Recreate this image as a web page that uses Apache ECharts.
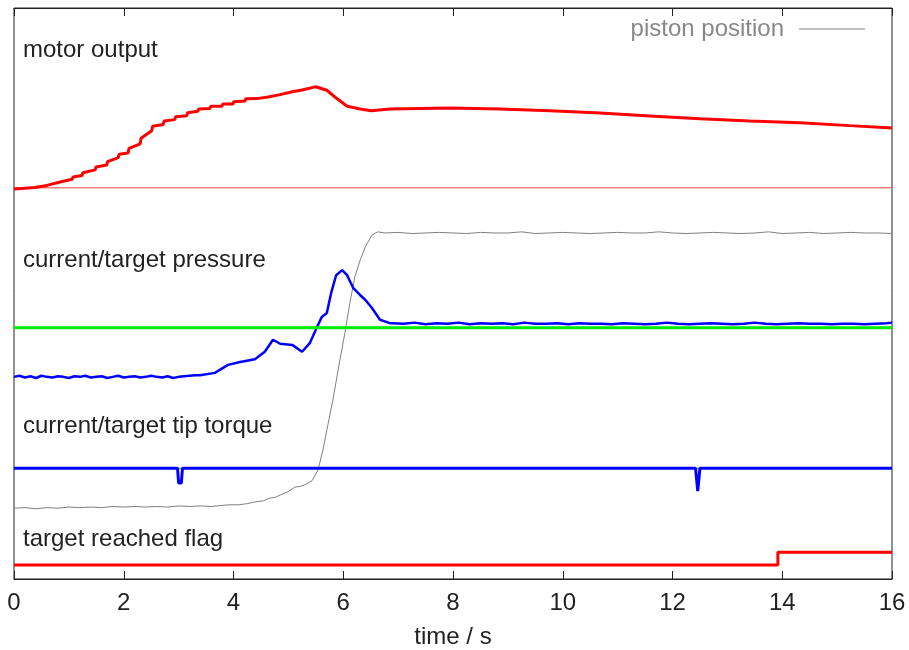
<!DOCTYPE html>
<html>
<head>
<meta charset="utf-8">
<script src="https://cdn.jsdelivr.net/npm/echarts@6/dist/echarts.min.js"></script>
<style>
html,body{margin:0;padding:0;background:#fff;}
#chart{width:909px;height:650px;}
</style>
</head>
<body>
<div id="chart"></div>
<script>
// x ticks (seconds)
var xTicks = [0, 2, 4, 6, 8, 10, 12, 14, 16];

// y is arbitrary units (0..100 of the stacked trace area)
// motor output: staircase ramp part [t, value]
var motorRamp = [
  [0,68.3],[0.2,68.45],
  [0.38,68.55],[0.395,68.85],[0.60,68.93],[0.615,69.28],[0.84,69.53],[0.855,69.88],
  [1.06,70.0],[1.075,70.4],[1.24,70.65],[1.255,71.15],[1.48,71.65],[1.495,72.15],
  [1.69,72.5],[1.705,73.1],[1.90,73.8],[1.915,74.4],[2.08,74.6],[2.095,75.4],
  [2.30,76.2],[2.315,77.2],[2.51,78.5],[2.525,79.3],[2.72,79.6],[2.735,80.2],
  [2.93,80.45],[2.945,80.95],[3.15,81.15],[3.165,81.65],[3.35,81.9],[3.365,82.3],
  [3.57,82.4],[3.585,82.8],[3.79,82.8],[3.805,83.2],[3.99,83.2],[4.005,83.6],
  [4.21,83.7],[4.225,84.1],[4.43,84.13],[4.445,84.48],[4.63,84.43],[4.645,84.78],
  [4.85,84.83],[4.865,85.18],[5.07,85.33],[5.085,85.68],[5.25,85.65],[5.265,85.95],
  [5.45,86.1]
];
// motor output: after the peak
var motorTail = [
  [5.45,86.1],[5.50,86.2],[5.70,85.6],[5.89,84.1],[6.07,82.8],[6.31,82.3],[6.51,82.0],
  [6.85,82.3],[7.95,82.5],[8.86,82.3],[9.77,82.0],[10.68,81.6],[11.59,81.1],
  [12.50,80.6],[13.41,80.2],[14.32,79.9],[15.23,79.4],[16,79.0]
];
var motorZero = [[0,68.5],[16,68.5]];

// current pressure
var pressure = [
  [0,35.4],[0.1,35.6],[0.2,35.3],[0.3,35.5],[0.4,35.2],[0.5,35.6],[0.6,35.4],[0.7,35.3],
  [0.8,35.5],[0.9,35.4],[1.0,35.2],[1.1,35.5],[1.2,35.4],[1.3,35.6],[1.4,35.3],[1.5,35.4],
  [1.6,35.5],[1.7,35.2],[1.8,35.4],[1.9,35.6],[2.0,35.3],[2.1,35.4],[2.2,35.5],[2.3,35.3],
  [2.4,35.4],[2.5,35.6],[2.6,35.4],[2.7,35.3],[2.8,35.5],[2.9,35.2],[3.0,35.4],[3.1,35.5],
  [3.2,35.6],[3.3,35.7],[3.39,35.7],[3.66,36.1],[3.90,37.5],[4.12,38.0],[4.39,38.5],
  [4.57,39.8],[4.72,41.9],[4.85,41.2],[5.07,41.0],[5.25,39.8],[5.39,41.3],[5.52,44.1],
  [5.61,45.9],[5.70,46.6],[5.78,50.1],[5.87,53.2],[5.98,54.1],[6.07,53.2],[6.18,51.0],
  [6.31,49.7],[6.40,48.9],[6.52,47.5],[6.67,45.4],[6.85,44.8],
  [6.9,44.8],[7.1,44.7],[7.3,44.9],[7.5,44.6],[7.7,44.8],[7.9,44.7],[8.1,44.9],[8.3,44.6],
  [8.5,44.8],[8.7,44.7],[8.9,44.8],[9.1,44.6],[9.3,44.9],[9.5,44.7],[9.7,44.7],[9.9,44.8],
  [10.1,44.6],[10.3,44.8],[10.5,44.7],[10.7,44.7],[10.9,44.6],[11.1,44.8],[11.3,44.7],
  [11.5,44.6],[11.7,44.7],[11.9,44.9],[12.1,44.7],[12.3,44.6],[12.5,44.7],[12.7,44.8],
  [12.9,44.7],[13.1,44.6],[13.3,44.7],[13.5,44.9],[13.7,44.7],[13.9,44.6],[14.1,44.7],
  [14.3,44.8],[14.5,44.7],[14.7,44.7],[14.9,44.6],[15.1,44.7],[15.3,44.7],[15.5,44.6],
  [15.7,44.7],[15.9,44.8],[16,44.9]
];
var targetPressure = [[0,44.0],[16,44.0]];

// piston position
var piston = [
  [0,12.4],[0.2,12.5],[0.4,12.3],[0.6,12.5],[0.8,12.4],[1.0,12.6],[1.2,12.5],[1.4,12.6],
  [1.6,12.5],[1.8,12.7],[2.0,12.6],[2.2,12.7],[2.4,12.6],[2.6,12.7],[2.8,12.6],[3.0,12.8],
  [3.2,12.7],[3.4,12.8],[3.6,12.7],[3.8,12.9],[3.94,13.0],[4.1,13.0],[4.25,13.2],[4.39,13.5],
  [4.55,13.7],[4.67,14.2],[4.76,14.3],[4.85,14.7],[5.0,15.3],[5.12,16.1],[5.21,16.2],
  [5.30,16.5],[5.43,17.2],[5.54,19.1],[5.63,22.6],[5.72,27.0],[5.81,31.3],[5.94,38.4],
  [6.03,43.1],[6.12,48.3],[6.21,52.9],[6.31,55.9],[6.40,58.1],[6.52,60.2],[6.63,60.8],
  [6.75,60.6],[7.0,60.7],[7.25,60.5],[7.5,60.6],[7.75,60.7],[8.0,60.6],[8.25,60.5],
  [8.5,60.7],[8.75,60.6],[9.0,60.6],[9.25,60.8],[9.5,60.5],[9.75,60.6],[10.0,60.7],
  [10.25,60.6],[10.5,60.5],[10.75,60.6],[11.0,60.7],[11.25,60.6],[11.5,60.6],[11.75,60.8],
  [12.0,60.6],[12.25,60.5],[12.5,60.6],[12.75,60.7],[13.0,60.6],[13.25,60.5],[13.5,60.6],
  [13.75,60.8],[14.0,60.5],[14.25,60.6],[14.5,60.7],[14.75,60.5],[15.0,60.6],[15.25,60.7],
  [15.5,60.6],[15.75,60.6],[16,60.5]
];

// tip torque
var torque = [
  [0,19.4],[2.98,19.4],[3.0,16.8],[3.05,16.8],[3.07,19.4],
  [12.42,19.4],[12.46,15.4],[12.50,19.4],[16,19.4]
];
var targetTorque = [[0,19.4],[16,19.4]];

// target reached flag
var flag = [[0,2.45],[13.92,4.7],[16,4.7]];

var labels = ['motor output', 'current/target pressure', 'current/target tip torque', 'target reached flag'];
var labelY = [50, 260, 426, 539];

var FONT = '"Liberation Sans", Arial, sans-serif';
var chart = echarts.init(document.getElementById('chart'), null, {renderer: 'canvas'});

function lineSeries(name, data, color, width, extra) {
  var s = {
    name: name, type: 'line', data: data, symbol: 'none', showSymbol: false,
    lineStyle: {color: color, width: width}, itemStyle: {color: color},
    animation: false, silent: true
  };
  if (extra) for (var k in extra) s[k] = extra[k];
  return s;
}

var option = {
  backgroundColor: '#fff',
  animation: false,
  grid: {left: 14, right: 17, top: 8, bottom: 71, containLabel: false, outerBoundsMode: 'none',
    show: true, borderColor: '#222', borderWidth: 1, backgroundColor: 'transparent'},
  legend: {
    data: [{name: 'piston position', icon: 'rect'}], right: 39, top: 12, align: 'right',
    itemWidth: 66, itemHeight: 1, selectedMode: false,
    itemStyle: {color: '#808080'},
    textStyle: {fontSize: 24, fontFamily: FONT, color: '#888', padding: [0, 10, 0, 0]}
  },
  xAxis: [{
    type: 'value', min: xTicks[0], max: xTicks[xTicks.length - 1], interval: 2,
    position: 'bottom',
    name: 'time / s', nameLocation: 'middle', nameGap: 46,
    nameTextStyle: {fontSize: 24, fontFamily: FONT, color: '#222'},
    axisLine: {show: true, lineStyle: {color: '#222', width: 1}},
    axisTick: {show: true, inside: true, length: 8, lineStyle: {color: '#222'}},
    axisLabel: {fontSize: 24, fontFamily: FONT, color: '#222', margin: 12},
    splitLine: {show: false}
  }, {
    type: 'value', min: xTicks[0], max: xTicks[xTicks.length - 1], interval: 2,
    position: 'top',
    axisLine: {show: true, lineStyle: {color: '#222', width: 1}},
    axisTick: {show: true, inside: true, length: 8, lineStyle: {color: '#222'}},
    axisLabel: {show: false},
    splitLine: {show: false}
  }],
  yAxis: {type: 'value', min: 0, max: 100, show: false},
  graphic: labels.map(function (t, i) {
    return {type: 'text', x: 23, y: labelY[i], silent: true,
      style: {text: t, fontSize: 24, fontFamily: FONT, fill: '#222', verticalAlign: 'middle'}};
  }),
  series: [
    lineSeries('motor zero', motorZero, '#ff4040', 1),
    lineSeries('motor output', motorRamp, '#ff0000', 3),
    lineSeries('motor output tail', motorTail, '#ff0000', 3),
    lineSeries('piston position', piston, '#808080', 1),
    lineSeries('current pressure', pressure, '#0000ff', 2.5),
    lineSeries('target pressure', targetPressure, '#00ee00', 3),
    lineSeries('target tip torque', targetTorque, '#00cc00', 1),
    lineSeries('current tip torque', torque, '#0000ff', 3),
    lineSeries('target reached flag', flag, '#ff0000', 3, {step: 'end'})
  ]
};
chart.setOption(option);
</script>
</body>
</html>
